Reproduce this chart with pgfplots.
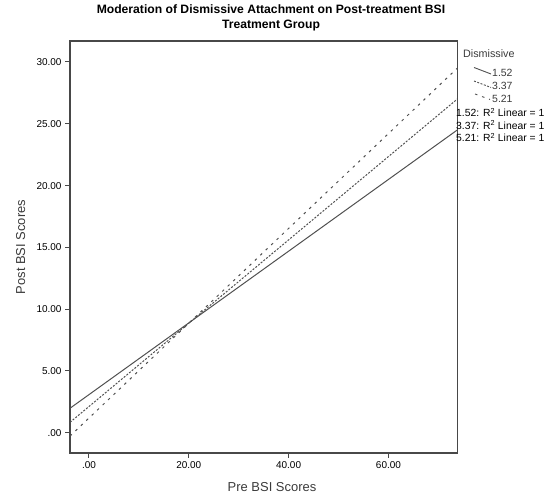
\documentclass[border=0pt]{standalone}
\usepackage{fontspec}
\setmainfont{Liberation Sans}
\usepackage{pgfplots}
\pgfplotsset{compat=1.18}
\definecolor{ln}{HTML}{505050}
\definecolor{ax}{HTML}{484848}
\definecolor{lab}{HTML}{3A3A3A}
\begin{document}
\begin{tikzpicture}[x=1bp,y=1bp]
\begin{axis}[at={(70bp,41bp)}, anchor=south west, scale only axis,
  width=387.3bp, height=412bp,
  xmin=-3.8, xmax=73.8, ymin=-1.64, ymax=31.7,
  axis line style={ax, line width=1.2bp},
  xtick={0,20,40,60}, xticklabels={.00,20.00,40.00,60.00},
  ytick={0,5,10,15,20,25,30},
  yticklabels={.00,5.00,10.00,15.00,20.00,25.00,30.00},
  xtick pos=left, ytick pos=left,
  tick align=outside, major tick length=5bp,
  tick style={ax, line width=1bp},
  ticklabel style={font=\fontsize{10}{12}\selectfont, text=black},
  clip=true]
\addplot[ln, line width=1bp] coordinates {(-3.8,1.98) (73.8,24.5)};
\addplot[ln, line width=1bp, dash pattern=on 2bp off 1.5bp] coordinates {(-3.8,0.84) (73.8,27.0)};
\addplot[ln, line width=1bp, dash pattern=on 2.5bp off 5bp] coordinates {(-3.8,-0.27) (73.8,29.5)};
\end{axis}
% title
\node[anchor=base, font=\bfseries\fontsize{12.2}{14}\selectfont] at (271,480) {Moderation of Dismissive Attachment on Post-treatment BSI};
\node[anchor=base, font=\bfseries\fontsize{12.2}{14}\selectfont] at (271,465) {Treatment Group};
% axis labels
\node[anchor=base, font=\fontsize{13}{14}\selectfont, text=lab] at (272,2) {Pre BSI Scores};
\node[anchor=base, rotate=90, font=\fontsize{13}{14}\selectfont, text=lab] at (25,247) {Post BSI Scores};
% legend
\node[anchor=base west, font=\fontsize{10.8}{12}\selectfont, text=lab, inner sep=0] at (463,436) {Dismissive};
\draw[ln, line width=0.9bp] (474,426.5) -- (491,420);
\draw[ln, line width=0.9bp, dash pattern=on 2bp off 1.5bp] (474,413) -- (491,406.5);
\draw[ln, line width=0.9bp, dash pattern=on 2.5bp off 5bp] (475,400) -- (490,394.5);
\node[anchor=base west, font=\fontsize{10.5}{12}\selectfont, text=lab, inner sep=0] at (492,417) {1.52};
\node[anchor=base west, font=\fontsize{10.5}{12}\selectfont, text=lab, inner sep=0] at (492,404) {3.37};
\node[anchor=base west, font=\fontsize{10.5}{12}\selectfont, text=lab, inner sep=0] at (492,391) {5.21};
\node[anchor=base west, font=\fontsize{10.4}{12}\selectfont, text=black, inner sep=0] at (456,377) {1.52: R\textsuperscript{2} Linear = 1};
\node[anchor=base west, font=\fontsize{10.4}{12}\selectfont, text=black, inner sep=0] at (456,364.5) {3.37: R\textsuperscript{2} Linear = 1};
\node[anchor=base west, font=\fontsize{10.4}{12}\selectfont, text=black, inner sep=0] at (456,352) {5.21: R\textsuperscript{2} Linear = 1};
\pgfresetboundingbox
\path (0,0) rectangle (549,494);
\end{tikzpicture}
\end{document}
